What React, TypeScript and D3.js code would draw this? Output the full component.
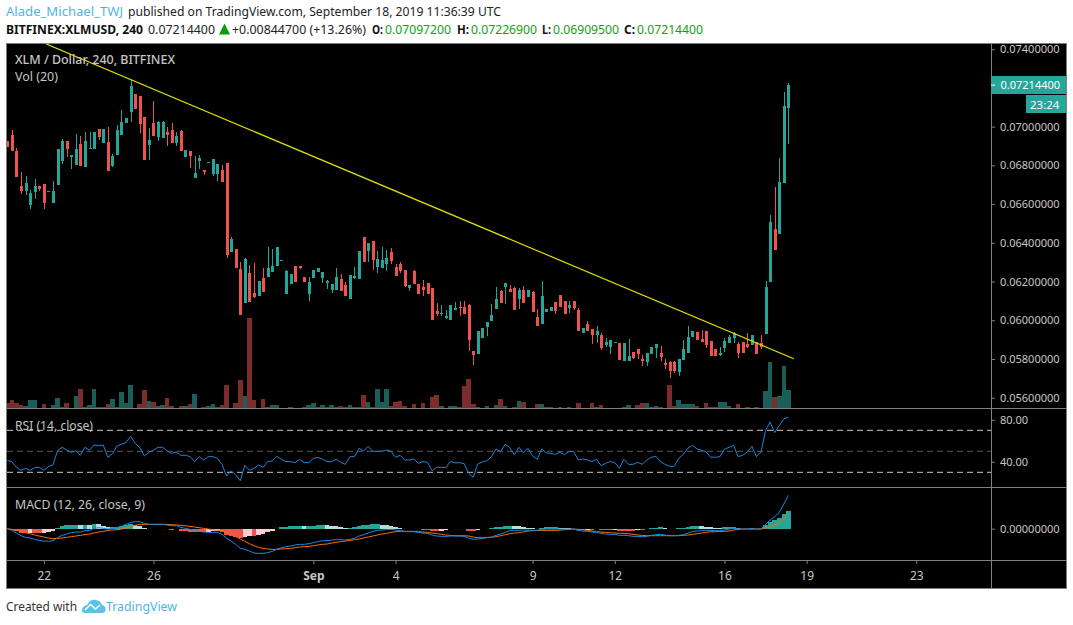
import * as d3 from 'd3'
import { useEffect } from 'react';

// prices are in 1/100000 of a dollar, candles are 4h bars
const opens = [
  6927,6957,6874,6693,6667,6595,6661,6692,6704,6665,
  6605,6698,6822,6926,6843,6802,6910,6793,6884,6884,
  6988,6915,6921,6797,6853,6957,7019,7076,7168,7158,
  7050,6905,7019,6946,6941,6972,6983,6915,6977,6843,
  6874,6735,6822,6776,6814,6755,6755,6776,6811,6352,
  6368,6265,6089,6244,6141,6125,6218,6223,6249,6280,
  6309,6135,6187,6280,6280,6223,6135,6218,6249,6218,
  6192,6156,6156,6213,6182,6110,6218,6213,6430,6358,
  6409,6275,6270,6290,6352,6275,6290,6260,6166,6254,
  6187,6172,6192,6166,6048,6032,6012,6001,6053,6068,
  6068,6079,5841,5826,5908,5965,5996,6058,6151,6172,
  6161,6166,6110,6156,6120,6146,6017,5981,6042,6048,
  6094,6130,6099,6063,6099,6053,5934,5981,5955,5924,
  5924,5872,5862,5885,5882,5789,5789,5836,5851,5800,
  5784,5826,5857,5831,5779,5784,5784,5733,5795,5831,
  5913,5939,5903,5944,5893,5851,5820,5857,5882,5908,
  5877,5888,5877,5872,5888,5882,5929,6198,6471,6445,
  6709,7097.2,
];
const highs = [
  6927,6983,6888,6766,6745,6673,6728,6692,6704,6667,
  6719,6884,6934,6926,6852,6962,6952,6971,6972,6972,
  6988,6988,7000,6859,7007,7086,7045,7241,7168,7158,
  7050,6993,7132,7029,7029,6998,7019,6972,6983,6879,
  6874,6848,6853,6776,6816,6833,6807,6802,6811,6430,
  6368,6301,6321,6285,6296,6203,6270,6378,6368,6378,
  6310,6260,6239,6280,6280,6223,6223,6260,6270,6249,
  6208,6187,6270,6239,6197,6234,6275,6358,6430,6399,
  6409,6358,6378,6363,6373,6290,6301,6260,6182,6260,
  6187,6208,6192,6166,6089,6079,6053,6079,6094,6099,
  6099,6084,5841,5944,5960,5991,6084,6172,6156,6192,
  6182,6172,6166,6177,6156,6151,6058,6203,6058,6068,
  6094,6130,6099,6099,6099,6063,5960,5996,5955,5970,
  5934,5908,5898,5886,5882,5882,5903,5836,5851,5820,
  5831,5862,5877,5867,5800,5789,5789,5800,5898,5970,
  5944,5939,5950,5944,5893,5851,5862,5908,5924,5939,
  5888,5888,5934,5924,5888,5924,6203,6544,6688,6838,
  7179,7226.9,
];
const lows = [
  6896,6874,6741,6654,6647,6575,6626,6667,6575,6665,
  6605,6698,6807,6843,6781,6802,6797,6793,6884,6884,
  6931,6915,6771,6791,6853,6957,7019,7024,7091,6967,
  6828,6828,6952,6926,6941,6900,6915,6900,6874,6843,
  6786,6735,6781,6750,6814,6745,6719,6714,6323,6352,
  6270,6027,6089,6094,6115,6125,6146,6223,6249,6280,
  6309,6135,6187,6197,6265,6197,6099,6218,6249,6192,
  6161,6141,6156,6151,6125,6110,6213,6213,6301,6301,
  6260,6244,6270,6254,6290,6228,6244,6172,6151,6187,
  6135,6125,6135,6001,6022,6022,6006,6001,6053,6022,
  6032,5841,5769,5826,5908,5919,5996,6058,6089,6084,
  6146,6053,6058,6089,6120,6042,5970,5981,6042,6048,
  6032,6068,6032,6037,6053,5944,5934,5944,5877,5882,
  5846,5862,5826,5885,5795,5789,5789,5800,5800,5764,
  5764,5826,5805,5789,5748,5702,5727,5712,5795,5831,
  5913,5898,5888,5857,5815,5815,5815,5836,5882,5882,
  5805,5831,5857,5872,5826,5851,5929,6198,6363,6445,
  6709,6909.5,
];
const closes = [
  6896,6874,6741,6667,6710,6656,6693,6678,6605,6667,
  6667,6884,6926,6884,6852,6884,6797,6926,6890,6972,
  6946,6988,6771,6848,6983,7024,7045,7210,7091,7014,
  6828,6931,6952,7024,7024,6957,6915,6952,6874,6879,
  6848,6760,6838,6766,6816,6833,6807,6714,6337,6420,
  6270,6027,6316,6094,6120,6203,6146,6270,6280,6378,
  6310,6254,6239,6197,6270,6197,6197,6260,6270,6249,
  6203,6187,6223,6151,6125,6234,6228,6358,6301,6399,
  6311,6316,6311,6321,6306,6228,6254,6177,6182,6187,
  6135,6156,6135,6001,6032,6037,6022,6079,6063,6063,
  6032,5898,5820,5944,5960,5991,6027,6110,6089,6192,
  6146,6053,6156,6089,6156,6042,5970,6125,6058,6068,
  6048,6068,6032,6079,6063,5944,5960,5944,5924,5944,
  5857,5888,5898,5886,5795,5882,5815,5805,5826,5789,
  5831,5862,5877,5810,5769,5738,5738,5800,5851,5913,
  5944,5898,5888,5872,5815,5815,5831,5893,5913,5934,
  5831,5831,5862,5924,5826,5862,6172,6507,6363,6714,
  7107,7214.4,
];
const volumes = [
  15,24,15,9,6,24,24,1,12,1,
  9,30,3,15,1,36,57,3,9,57,
  3,3,12,27,3,48,15,69,1,12,
  54,21,18,6,9,30,6,1,6,6,
  12,42,1,3,6,12,3,9,69,1,
  15,84,36,270,24,1,27,3,9,9,
  1,1,3,1,1,3,9,15,3,9,
  3,9,3,6,3,9,3,3,39,18,
  3,57,18,57,6,18,21,6,1,12,
  1,15,1,33,39,6,1,6,6,3,
  66,87,12,3,1,6,1,9,27,6,
  1,3,21,18,1,1,12,12,3,3,
  1,3,1,3,1,15,1,1,15,3,
  9,1,1,1,1,3,9,1,9,15,
  15,3,6,3,1,69,6,24,12,12,
  12,6,1,15,3,3,18,18,6,1,
  12,1,3,1,3,1,51,138,33,36,
  126,54,
];
const rsi = [
  41.1,40.2,34.8,31.9,33.8,31.9,34.4,34.8,31.9,35.4,
  37,50.6,53.8,51.3,49,50.6,46.2,53.8,51,56,
  55.4,56,44.3,47.5,55,56.7,58.3,64.3,57.6,53.5,
  45.6,49,51,53.8,53.8,50.3,48,49.4,46.2,46.2,
  44.9,40.2,44.9,41.7,44.9,44.9,43.3,37.6,26.5,31.3,
  27.5,22.1,36.7,31.9,33.8,37,34.8,40.2,40.8,45.2,
  42.4,40.2,40.2,39.2,42.4,39.2,39.2,43.3,44.3,42.4,
  40.2,40.2,42.4,39.5,37.6,44.9,44.9,52.9,50.3,54.8,
  50,50,50,51.3,50,44.3,46.2,41.7,41.7,42.7,
  38.6,40.2,39.5,31.6,34.8,34.8,34.4,40.5,38.9,39.2,
  38.3,29,25.2,37.9,39.8,41.1,44.9,52.2,49.7,56.7,
  53.5,46.8,53.8,48.7,52.9,45.6,42.4,52.2,48.4,48,
  47,49,46.8,50,49.7,41.7,42.7,41.7,40.2,42.4,
  36.3,38.6,40.2,39.2,33.8,42.4,37.6,37.6,39.5,37.6,
  41.7,44.3,45.2,40.2,37.6,35.7,35.7,43.3,47.1,52.9,
  55.7,52.2,51,49.4,44.3,44.3,44.9,51.9,53.8,55.7,
  44.9,46.2,49.4,54.8,44.9,49,69.7,77.9,67.8,74.4,
  81,82.4,
];
// macd values are in units of 0.00003
const macdLine = [
  0,-5,-13,-21,-26,-28,-32,-35,-37,-38,
  -36,-27,-20,-16,-12,-10,-10,-6,-5,1,
  3,1,-1,0,3,7,13,19,21,21,
  16,13,13,13,13,11,9,9,4,1,
  -2,-5,-8,-10,-11,-11,-11,-17,-29,-37,
  -47,-59,-62,-67,-73,-74,-74,-72,-68,-62,
  -57,-54,-52,-49,-47,-47,-45,-42,-39,-36,
  -36,-34,-33,-33,-34,-32,-29,-22,-18,-13,
  -8,-5,-4,-3,-2,-4,-6,-8,-9,-9,
  -11,-13,-14,-19,-22,-23,-23,-22,-22,-22,
  -23,-28,-32,-31,-29,-27,-25,-20,-16,-11,
  -6,-5,-5,-4,-4,-5,-5,-2,-1,-1,
  -1,-1,-1,-1,-1,-5,-7,-8,-10,-11,
  -14,-16,-17,-17,-20,-20,-21,-23,-23,-24,
  -23,-20,-18,-17,-19,-21,-21,-20,-18,-13,
  -9,-7,-6,-5,-5,-6,-6,-4,-1,2,
  0,-1,-1,0,-1,-1,13,26,36,49,
  74,100,
];
const signalLine = [
  0,-2,-5,-8,-12,-15,-19,-22,-25,-28,
  -30,-29,-28,-26,-24,-22,-20,-18,-16,-13,
  -10,-8,-5,-4,-3,-1,2,6,10,13,
  13,13,13,13,13,13,12,11,10,9,
  7,5,3,1,-1,-3,-4,-6,-10,-16,
  -23,-31,-38,-45,-51,-56,-59,-61,-62,-62,
  -61,-60,-59,-57,-55,-54,-53,-51,-49,-47,
  -46,-43,-41,-39,-37,-35,-33,-31,-28,-25,
  -22,-19,-16,-14,-11,-9,-8,-8,-8,-8,
  -9,-10,-11,-13,-15,-17,-19,-20,-21,-21,
  -21,-22,-25,-27,-27,-26,-26,-24,-21,-18,
  -15,-13,-12,-10,-7,-6,-5,-5,-5,-5,
  -5,-4,-3,-2,-1,-2,-3,-5,-7,-9,
  -10,-11,-12,-13,-14,-14,-15,-17,-19,-20,
  -21,-21,-21,-21,-21,-21,-21,-21,-20,-19,
  -17,-15,-13,-11,-9,-9,-8,-8,-7,-4,
  -2,-1,-1,-1,-1,-1,2,6,11,17,
  29,46,
];
const macdHist = [
  0,-3,-8,-13,-14,-13,-13,-13,-12,-10,
  -6,2,8,10,12,12,10,12,11,14,
  13,9,4,4,6,8,11,13,11,8,
  3,0,0,0,0,-2,-3,-2,-6,-8,
  -9,-10,-11,-11,-10,-8,-7,-11,-19,-21,
  -24,-28,-24,-22,-22,-18,-15,-11,-6,0,
  4,6,7,8,8,7,8,9,10,11,
  10,9,8,6,3,3,4,9,10,12,
  14,14,12,11,9,5,2,0,-1,-1,
  -2,-3,-3,-6,-7,-6,-4,-2,-1,-1,
  -2,-6,-7,-4,-2,-1,1,4,5,7,
  9,8,7,6,3,1,0,3,4,4,
  4,3,2,1,0,-3,-4,-3,-3,-2,
  -4,-5,-5,-4,-6,-6,-6,-6,-4,-4,
  -2,1,3,4,2,0,0,1,2,6,
  8,8,7,6,4,3,2,4,6,6,
  2,0,0,1,0,0,11,20,25,32,
  45,54,
];

const priceTicks = [5600, 5800, 6000, 6200, 6400, 6600, 6800, 7000, 7400];
const rsiTicks = [40, 80];
const rsiBands = [30, 50, 70];
const macdTicks = [0];
const timeTickIdx = [8, 32, 67, 85, 115, 133, 157, 175, 199];
const timeTickLabels = ['22', '26', 'Sep', '4', '9', '12', '16', '19', '23'];
const trendIdx = [8.5, 172.2];
const trendPrice = [7427, 5801];
const lastOpen = opens[opens.length - 1];
const lastHigh = highs[highs.length - 1];
const lastLow = lows[lows.length - 1];
const lastClose = closes[closes.length - 1];

const FONT = '"Noto Sans", sans-serif';
const UP = '#26a69a', DOWN = '#ef5350';
const UP_VOL = '#1a5e58', DOWN_VOL = '#7c2c2b';
const GRID = '#7f7f7f', LABEL = '#c6c6c6';
const LEFT = 7, RIGHT = 991, TOP = 44, VOL_BOTTOM = 408, RSI_BOTTOM = 487, MACD_BOTTOM = 560, BOTTOM = 588, EDGE = 1066;

const usd = (v: number) => (v / 1e5).toFixed(8);

function makeChart(node: SVGSVGElement) {
    const svg = d3.select(node);
    svg.selectAll('*').remove();

    const x = d3.scaleLinear().domain([0, 199]).range([7.3, 916.3]);
    const priceY = d3.scaleLinear().domain([5600, 7400]).range([397.7, 49.2]);
    const volY = d3.scaleLinear().domain([0, 270]).range([VOL_BOTTOM, 318]);
    const rsiY = d3.scaleLinear().domain([30, 70]).range([472.3, 430.3]);
    const macdY = d3.scaleLinear().domain([0, 100]).range([528.7, 495.4]);
    const step = x(1) - x(0);

    const text = (g: any, s: string, px: number, py: number, size: number, fill: string, weight = 400, len?: number) => {
        const t = g.append('text').text(s).attr('x', px).attr('y', py)
            .attr('font-family', FONT).attr('font-size', size).attr('font-weight', weight).attr('fill', fill);
        if (len) t.attr('textLength', len).attr('lengthAdjust', 'spacingAndGlyphs');
        return t;
    };

    // header
    text(svg, 'Alade_Michael_TWJ', 6, 16, 13, '#4db5e6', 400, 117);
    text(svg, 'published on TradingView.com, September 18, 2019 11:36:39 UTC', 128, 16, 13, '#222', 400, 373);
    text(svg, 'BITFINEX:XLMUSD, 240', 6, 34, 13, '#111', 700, 137);
    text(svg, usd(lastClose), 148, 34, 13, '#222', 400, 67);
    svg.append('path').attr('d', 'M219 34.5L224.5 23.5L230 34.5Z').attr('fill', '#0a9c0a');
    text(svg, '+0.00844700 (+13.26%)', 232, 34, 13, '#222', 400, 134);
    const ohlcLabels = [['O:', 372, 385, lastOpen], ['H:', 457, 471, lastHigh], ['L:', 542, 553, lastLow], ['C:', 624, 637, lastClose]] as [string, number, number, number][];
    ohlcLabels.forEach(([lab, px, vx, val]) => {
        text(svg, lab, px, 34, 13, '#111', 700, vx - px - 2);
        text(svg, usd(val), vx, 34, 13, '#12a012', 400, 66);
    });

    // background
    svg.append('rect').attr('x', 6).attr('y', 43).attr('width', EDGE - 6).attr('height', BOTTOM - 43).attr('fill', '#000');

    const defs = svg.append('defs');
    defs.append('clipPath').attr('id', 'plot').append('rect')
        .attr('x', LEFT).attr('y', TOP).attr('width', RIGHT - LEFT).attr('height', VOL_BOTTOM - TOP);
    const plot = svg.append('g').attr('clip-path', 'url(#plot)');

    // volume
    plot.append('g').attr('shape-rendering', 'crispEdges').selectAll('rect').data(volumes).join('rect')
        .attr('x', (_, i) => Math.round(x(i) - step / 2))
        .attr('width', (_, i) => Math.round(x(i) + step / 2) - Math.round(x(i) - step / 2))
        .attr('y', d => volY(d)).attr('height', d => VOL_BOTTOM - volY(d))
        .attr('fill', (_, i) => closes[i] >= opens[i] ? UP_VOL : DOWN_VOL);

    // candles
    const candles = plot.append('g').attr('shape-rendering', 'crispEdges').selectAll('g').data(opens).join('g');
    candles.append('rect')
        .attr('x', (_, i) => Math.round(x(i)))
        .attr('width', 1)
        .attr('y', (_, i) => priceY(highs[i]))
        .attr('height', (_, i) => priceY(lows[i]) - priceY(highs[i]))
        .attr('fill', (_, i) => closes[i] >= opens[i] ? UP : DOWN);
    candles.append('rect')
        .attr('x', (_, i) => Math.round(x(i)) - 1)
        .attr('width', 3)
        .attr('y', (_, i) => priceY(Math.max(opens[i], closes[i])))
        .attr('height', (_, i) => Math.max(1, Math.abs(priceY(opens[i]) - priceY(closes[i]))))
        .attr('fill', (_, i) => closes[i] >= opens[i] ? UP : DOWN);

    // trend line
    plot.append('path')
        .attr('d', d3.line<number>().x(d => x(d)).y((_, i) => priceY(trendPrice[i]))(trendIdx))
        .attr('fill', 'none').attr('stroke', '#e0e000').attr('stroke-width', 1.2);

    text(svg, 'XLM / Dollar, 240, BITFINEX', 15, 64, 12, LABEL, 500, 160);
    text(svg, 'Vol (20)', 15, 81, 12, LABEL, 400, 43);

    // rsi
    rsiBands.forEach(b => {
        svg.append('line').attr('x1', LEFT).attr('x2', RIGHT).attr('y1', rsiY(b)).attr('y2', rsiY(b))
            .attr('stroke', b === 50 ? '#5a5a5a' : '#c8c8c8').attr('stroke-dasharray', '6 4');
    });
    svg.append('path')
        .attr('d', d3.line<number>().x((_, i) => x(i)).y(d => rsiY(d))(rsi))
        .attr('fill', 'none').attr('stroke', '#1e84d6').attr('stroke-width', 1);
    text(svg, 'RSI (14, close)', 15, 430, 12, LABEL, 400, 78);

    // macd
    const histColor = (d: number, i: number) => {
        const prev = i > 0 ? macdHist[i - 1] : 0;
        if (d >= 0) return d >= prev ? UP : '#b2dfdb';
        return d <= prev ? DOWN : '#ffcdd2';
    };
    svg.append('g').attr('shape-rendering', 'crispEdges').selectAll('rect').data(macdHist).join('rect')
        .attr('x', (_, i) => Math.round(x(i) - step / 2))
        .attr('width', (_, i) => Math.round(x(i) + step / 2) - Math.round(x(i) - step / 2))
        .attr('y', d => Math.min(macdY(d), macdY(0)))
        .attr('height', d => Math.abs(macdY(d) - macdY(0)))
        .attr('fill', histColor);
    const macdPath = d3.line<number>().x((_, i) => x(i)).y(d => macdY(d));
    svg.append('path').attr('d', macdPath(signalLine)).attr('fill', 'none').attr('stroke', '#ff6d00').attr('stroke-width', 1);
    svg.append('path').attr('d', macdPath(macdLine)).attr('fill', 'none').attr('stroke', '#1e88e5').attr('stroke-width', 1);
    text(svg, 'MACD (12, 26, close, 9)', 15, 509, 12, LABEL, 400, 130);

    // frame and pane separators
    const seps = svg.append('g').attr('stroke', GRID).attr('shape-rendering', 'crispEdges');
    seps.append('rect').attr('x', 6).attr('y', 43).attr('width', EDGE - 6).attr('height', BOTTOM - 43).attr('fill', 'none');
    [VOL_BOTTOM, RSI_BOTTOM, MACD_BOTTOM].forEach(py => {
        seps.append('line').attr('x1', 6).attr('x2', EDGE).attr('y1', py).attr('y2', py);
    });
    seps.append('line').attr('x1', RIGHT).attr('x2', RIGHT).attr('y1', 43).attr('y2', BOTTOM);

    // axes
    const style = (g: any) => {
        g.select('.domain').remove();
        g.selectAll('.tick line').attr('stroke', GRID);
        g.selectAll('.tick text').attr('fill', LABEL).attr('font-family', FONT).attr('font-size', 11);
    };
    svg.append('g').attr('transform', `translate(${RIGHT},0)`)
        .call(d3.axisRight(priceY).tickValues(priceTicks).tickSize(4).tickPadding(5).tickFormat(d => usd(+d)))
        .call(style);
    svg.append('g').attr('transform', `translate(${RIGHT},0)`)
        .call(d3.axisRight(rsiY).tickValues(rsiTicks).tickSize(4).tickPadding(5).tickFormat(d => (+d).toFixed(2)))
        .call(style);
    svg.append('g').attr('transform', `translate(${RIGHT},0)`)
        .call(d3.axisRight(macdY).tickValues(macdTicks).tickSize(4).tickPadding(5).tickFormat(d => (+d).toFixed(8)))
        .call(style);
    const timeAxis = svg.append('g').attr('transform', `translate(0,${MACD_BOTTOM})`)
        .call(d3.axisBottom(x).tickValues(timeTickIdx).tickSize(4).tickPadding(7)
            .tickFormat((_, i) => timeTickLabels[i]))
        .call(style);
    timeAxis.selectAll('.tick text').attr('font-size', 12)
        .attr('font-weight', (_: any, i: number) => timeTickLabels[i] === 'Sep' ? 700 : 400);

    // last price tag
    svg.append('rect').attr('x', RIGHT).attr('y', 76).attr('width', EDGE - RIGHT).attr('height', 18).attr('fill', UP);
    svg.append('rect').attr('x', 1026).attr('y', 95).attr('width', EDGE - 1026).attr('height', 18).attr('fill', UP);
    svg.append('line').attr('x1', RIGHT).attr('x2', RIGHT + 4).attr('y1', priceY(lastClose)).attr('y2', priceY(lastClose)).attr('stroke', '#fff');
    text(svg, usd(lastClose), 1000.5, 89, 11, '#fff');
    text(svg, '23:24', 1030, 108.5, 11.5, '#fff');

    // footer
    text(svg, 'Created with', 6, 611, 12.5, '#333', 400, 71);
    svg.append('path')
        .attr('d', 'M82 611Q82 606 87 605Q90 599 96 600Q101 601 102 605Q106 606 105.5 610Q105 613 102 613L86 613Q82 613 82 611Z')
        .attr('fill', '#5cc0ea');
    svg.append('path').attr('d', 'M85 610L90.5 604.5L95.5 609L100 605')
        .attr('fill', 'none').attr('stroke', '#fff').attr('stroke-width', 1.6);
    text(svg, 'TradingView', 106, 611, 13, '#4db5e6', 400, 71);
}

function App() {
    useEffect(() => {
        const node = document.getElementById('chart') as unknown as SVGSVGElement;
        makeChart(node);
    });

    return (
        <svg id="chart" width="1073" height="625" style={{ position: 'absolute', left: 0, top: 0, background: '#fff' }}>
        </svg>
    );
}

export default App;
